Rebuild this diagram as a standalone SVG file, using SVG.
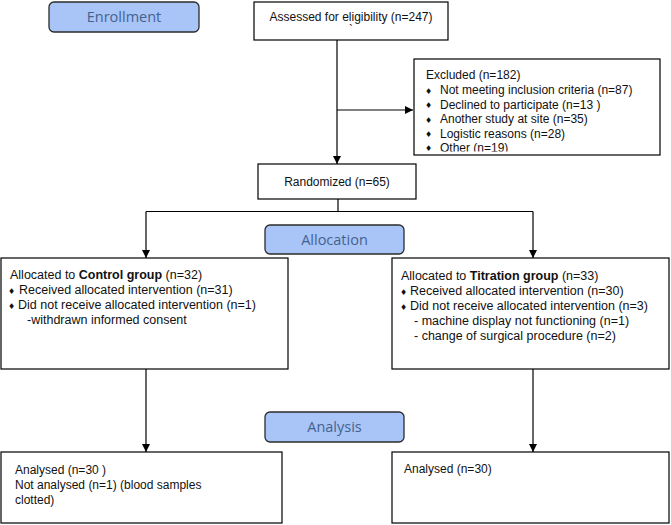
<svg xmlns="http://www.w3.org/2000/svg" width="671" height="525" viewBox="0 0 671 525">
<style>
.box{fill:#fff;stroke:#000;stroke-width:1.2}
.stage{fill:#a9c5f7;stroke:#2b2b2b;stroke-width:1.3}
.stxt{font-family:"Open Sans","Noto Sans",sans-serif;font-size:14.5px;fill:#45628f;text-anchor:middle}
.t{font-family:"Liberation Sans",Arial,sans-serif;font-size:12px;fill:#111}
.m{font-family:"Liberation Sans",Arial,sans-serif;font-size:12.5px;fill:#111}
.b{font-family:"DejaVu Sans",sans-serif;font-size:8px;fill:#111}
.c{fill:none;stroke:#000;stroke-width:1.2}
</style>
<defs>
<marker id="ah" viewBox="0 0 10 10" refX="10" refY="5" markerWidth="8" markerHeight="8" markerUnits="userSpaceOnUse" orient="auto">
<path d="M0,0 L10,5 L0,10 z" fill="#000"/>
</marker>
<clipPath id="exclip"><rect x="414" y="59" width="246" height="92.5"/></clipPath>
</defs>

<g id="connectors">
<line class="c" x1="337" y1="40" x2="337" y2="164" marker-end="url(#ah)"/>
<line class="c" x1="337" y1="110" x2="413" y2="110" marker-end="url(#ah)"/>
<line class="c" x1="338" y1="199" x2="338" y2="211.5"/>
<line class="c" x1="146" y1="211.5" x2="533" y2="211.5"/>
<line class="c" x1="146" y1="211.5" x2="146" y2="258" marker-end="url(#ah)"/>
<line class="c" x1="533" y1="211.5" x2="533" y2="258" marker-end="url(#ah)"/>
<line class="c" x1="146" y1="369" x2="146" y2="452" marker-end="url(#ah)"/>
<line class="c" x1="533" y1="369" x2="533" y2="452" marker-end="url(#ah)"/>
</g>

<g id="enrollment">
<rect class="stage" x="49" y="2" width="150" height="30" rx="5"/>
<text class="stxt" x="124" y="22">Enrollment</text>
</g>

<g id="assessed">
<rect class="box" x="254" y="2" width="194" height="38"/>
<text class="t" x="351" y="21" text-anchor="middle">Assessed for eligibility (n=247)</text>
<text class="t" x="349" y="34" font-size="8">`</text>
</g>

<g id="excluded">
<rect class="box" x="414" y="59" width="246" height="96"/>
<text class="t" x="426" y="79">Excluded  (n=182)</text>
<text class="b" x="425" y="93.5">♦</text><text class="t" x="440" y="94">Not meeting inclusion criteria (n=87)</text>
<text class="b" x="425" y="108">♦</text><text class="t" x="440" y="108.5">Declined to participate (n=13 )</text>
<text class="b" x="425" y="122.5">♦</text><text class="t" x="440" y="123">Another study at site (n=35)</text>
<text class="b" x="425" y="137">♦</text><text class="t" x="440" y="137.5">Logistic reasons (n=28)</text>
<text class="b" x="425" y="151">♦</text><text class="t" x="440" y="152" clip-path="url(#exclip)">Other (n=19)</text>
</g>

<g id="randomized">
<rect class="box" x="258" y="164" width="158" height="35"/>
<text class="t" x="337" y="186" text-anchor="middle">Randomized (n=65)</text>
</g>

<g id="allocation">
<rect class="stage" x="265" y="225" width="139" height="29" rx="5"/>
<text class="stxt" x="334.5" y="245">Allocation</text>
</g>

<g id="control">
<rect class="box" x="1" y="258" width="287" height="111"/>
<text class="m" x="10" y="279">Allocated to <tspan font-weight="bold">Control group</tspan> (n=32)</text>
<text class="b" x="8" y="293.5">♦</text><text class="m" x="19" y="294">Received allocated intervention (n=31)</text>
<text class="b" x="8" y="308.5">♦</text><text class="m" x="18" y="309">Did not receive allocated intervention  (n=1)</text>
<text class="m" x="27" y="324">-withdrawn informed consent</text>
</g>

<g id="titration">
<rect class="box" x="392" y="258" width="277" height="111"/>
<text class="m" x="401" y="280">Allocated to <tspan font-weight="bold">Titration group</tspan> (n=33)</text>
<text class="b" x="400" y="294.5">♦</text><text class="m" x="410" y="295">Received allocated intervention (n=30)</text>
<text class="b" x="400" y="309.5">♦</text><text class="m" x="410" y="310">Did not receive allocated intervention (n=3)</text>
<text class="m" x="414" y="325">- machine display not functioning (n=1)</text>
<text class="m" x="414" y="339.5">- change of surgical procedure (n=2)</text>
</g>

<g id="analysis">
<rect class="stage" x="265" y="412" width="139" height="30" rx="5"/>
<text class="stxt" x="334.5" y="432">Analysis</text>
</g>

<g id="analysed-control">
<rect class="box" x="1" y="452" width="281" height="71"/>
<text class="t" x="15" y="474">Analysed  (n=30 )</text>
<text class="t" x="15" y="489" font-size="13">Not analysed (n=1) (blood samples</text>
<text class="t" x="15" y="504" font-size="13">clotted)</text>
</g>

<g id="analysed-titration">
<rect class="box" x="392" y="452" width="277" height="71"/>
<text class="t" x="404" y="473">Analysed  (n=30)</text>
</g>
</svg>
